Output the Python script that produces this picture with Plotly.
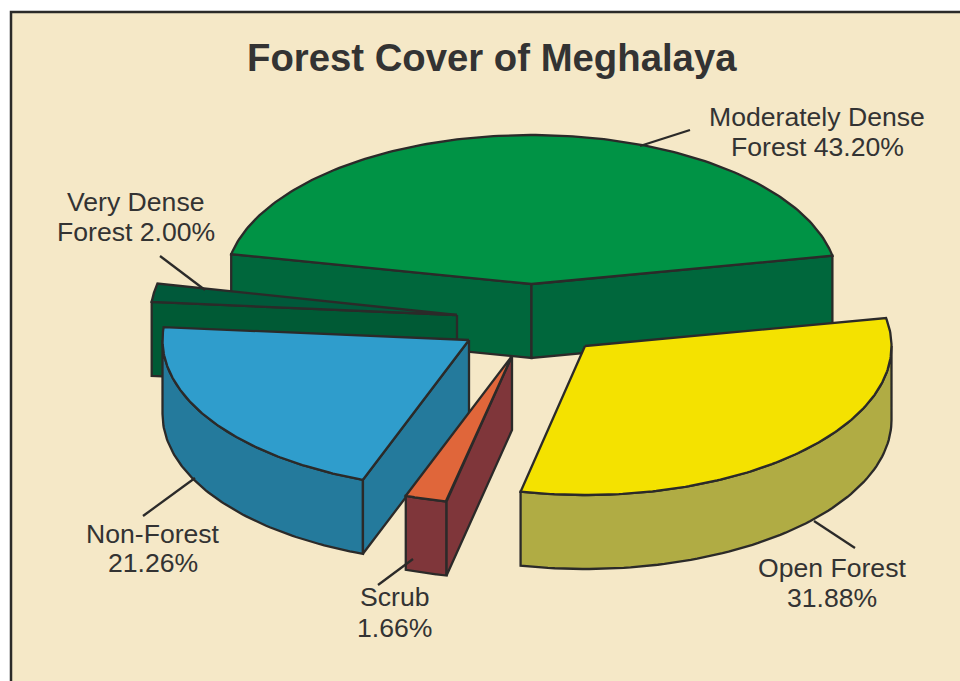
import numpy as np
import plotly.graph_objects as go

# --- data (clockwise from the green slice's start)
categories = ["Moderately Dense Forest", "Open Forest", "Scrub", "Non-Forest", "Very Dense Forest"]
shares = [43.20, 31.88, 1.66, 21.26, 2.00]
label_lines = [
    ["Moderately Dense", "Forest 43.20%"],
    ["Open Forest", "31.88%"],
    ["Scrub", "1.66%"],
    ["Non-Forest", "21.26%"],
    ["Very Dense", "Forest 2.00%"],
]

# --- drawing style and pseudo-3D geometry
top_colors = ["#009345", "#F4E200", "#E0663A", "#2F9DCC", "#00593A"]
wall_colors = ["#00673C", "#B0AC44", "#7F363A", "#247A9C", "#005A35"]
slice_cx = [531.5, 585, 512, 469, 457]
slice_cy = [284, 346, 356, 340, 315]
angle_shift = [-0.7, 1.44, -0.2, 1.74, 0]
sweep_stretch = [1.0127, 0.984, 1.33, 0.976, 1]
draw_order = [0, 4, 3, 2, 1]
RX, RY, DEPTH = 306.5, 149, 74
START = -shares[0] * 1.8
INK = "#2B2A29"
TEXT = "#333333"
BG = "#F5E8C7"
LW = 2.3
label_x = [817, 832, 394.5, 153, 135.5]
label_y = [[117, 147], [568, 598], [597, 628], [534, 563], [202, 232]]
leaders = [(640, 146, 690, 130), (814, 521, 855, 548), (378, 585, 413, 559),
           (143, 516, 195, 478), (160, 256, 205, 290)]


def edge(cx, cy, t):
    r = np.radians(t)
    return cx + RX * np.sin(r), cy - RY * np.cos(r)


def poly(fig, xs, ys, color, name):
    fig.add_trace(go.Scatter(x=xs, y=ys, mode="lines", fill="toself", fillcolor=color,
                             line=dict(color=INK, width=LW), name=name, hoverinfo="name"))


def radial_wall(fig, cx, cy, t, color, name):
    ex, ey = edge(cx, cy, t)
    poly(fig, [cx, ex, ex, cx, cx], [cy, ey, ey + DEPTH, cy + DEPTH, cy], color, name)


fig = go.Figure()
spans = []
acc = START
for s, sh, st in zip(shares, angle_shift, sweep_stretch):
    sweep = s * 3.6
    spans.append((acc + sh, acc + sh + sweep * st))
    acc += sweep

for i in draw_order:
    t0, t1 = spans[i]
    cx, cy = slice_cx[i], slice_cy[i]
    name = f"{categories[i]} {shares[i]:.2f}%"
    # outer curved wall: only the part that faces the viewer
    a0, a1 = max(t0, 90), min(t1, 270)
    if a1 > a0:
        ts = np.linspace(a0, a1, 80)
        ex, ey = edge(cx, cy, ts)
        poly(fig, np.r_[ex, ex[::-1], ex[0]], np.r_[ey, ey[::-1] + DEPTH, ey[0]], wall_colors[i], name)
    # flat cut walls: only those whose outward normal points to the viewer
    if np.sin(np.radians(t0)) < 0:
        radial_wall(fig, cx, cy, t0, wall_colors[i], name)
    if np.sin(np.radians(t1)) > 0:
        radial_wall(fig, cx, cy, t1, wall_colors[i], name)
    # top face
    ts = np.linspace(t0, t1, 160)
    ex, ey = edge(cx, cy, ts)
    poly(fig, np.r_[cx, ex, cx], np.r_[cy, ey, cy], top_colors[i], name)

shapes = [dict(type="rect", xref="x", yref="y", x0=11, y0=12, x1=975, y1=700,
               fillcolor=BG, line=dict(color=INK, width=2.5), layer="below")]
for x0, y0, x1, y1 in leaders:
    shapes.append(dict(type="line", xref="x", yref="y", x0=x0, y0=y0, x1=x1, y1=y1,
                       line=dict(color=INK, width=LW)))

annotations = [dict(x=492, y=57, xref="x", yref="y", text="<b>Forest Cover of Meghalaya</b>", showarrow=False,
                    font=dict(family="Liberation Sans", size=38.3, color=TEXT))]
for lines, x, ys in zip(label_lines, label_x, label_y):
    for line, y in zip(lines, ys):
        annotations.append(dict(x=x, y=y, xref="x", yref="y", text=line, showarrow=False,
                                font=dict(family="Liberation Sans", size=26.6, color=TEXT)))

fig.update_layout(
    width=960, height=681, margin=dict(l=0, r=0, t=0, b=0), showlegend=False,
    paper_bgcolor="white", plot_bgcolor="white", shapes=shapes, annotations=annotations,
    xaxis=dict(range=[0, 960], visible=False, fixedrange=True),
    yaxis=dict(range=[681, 0], visible=False, fixedrange=True),
)
fig.write_html("out.html", config={"displayModeBar": False},
               post_script="document.body.style.margin='0';document.body.style.overflow='hidden';")
